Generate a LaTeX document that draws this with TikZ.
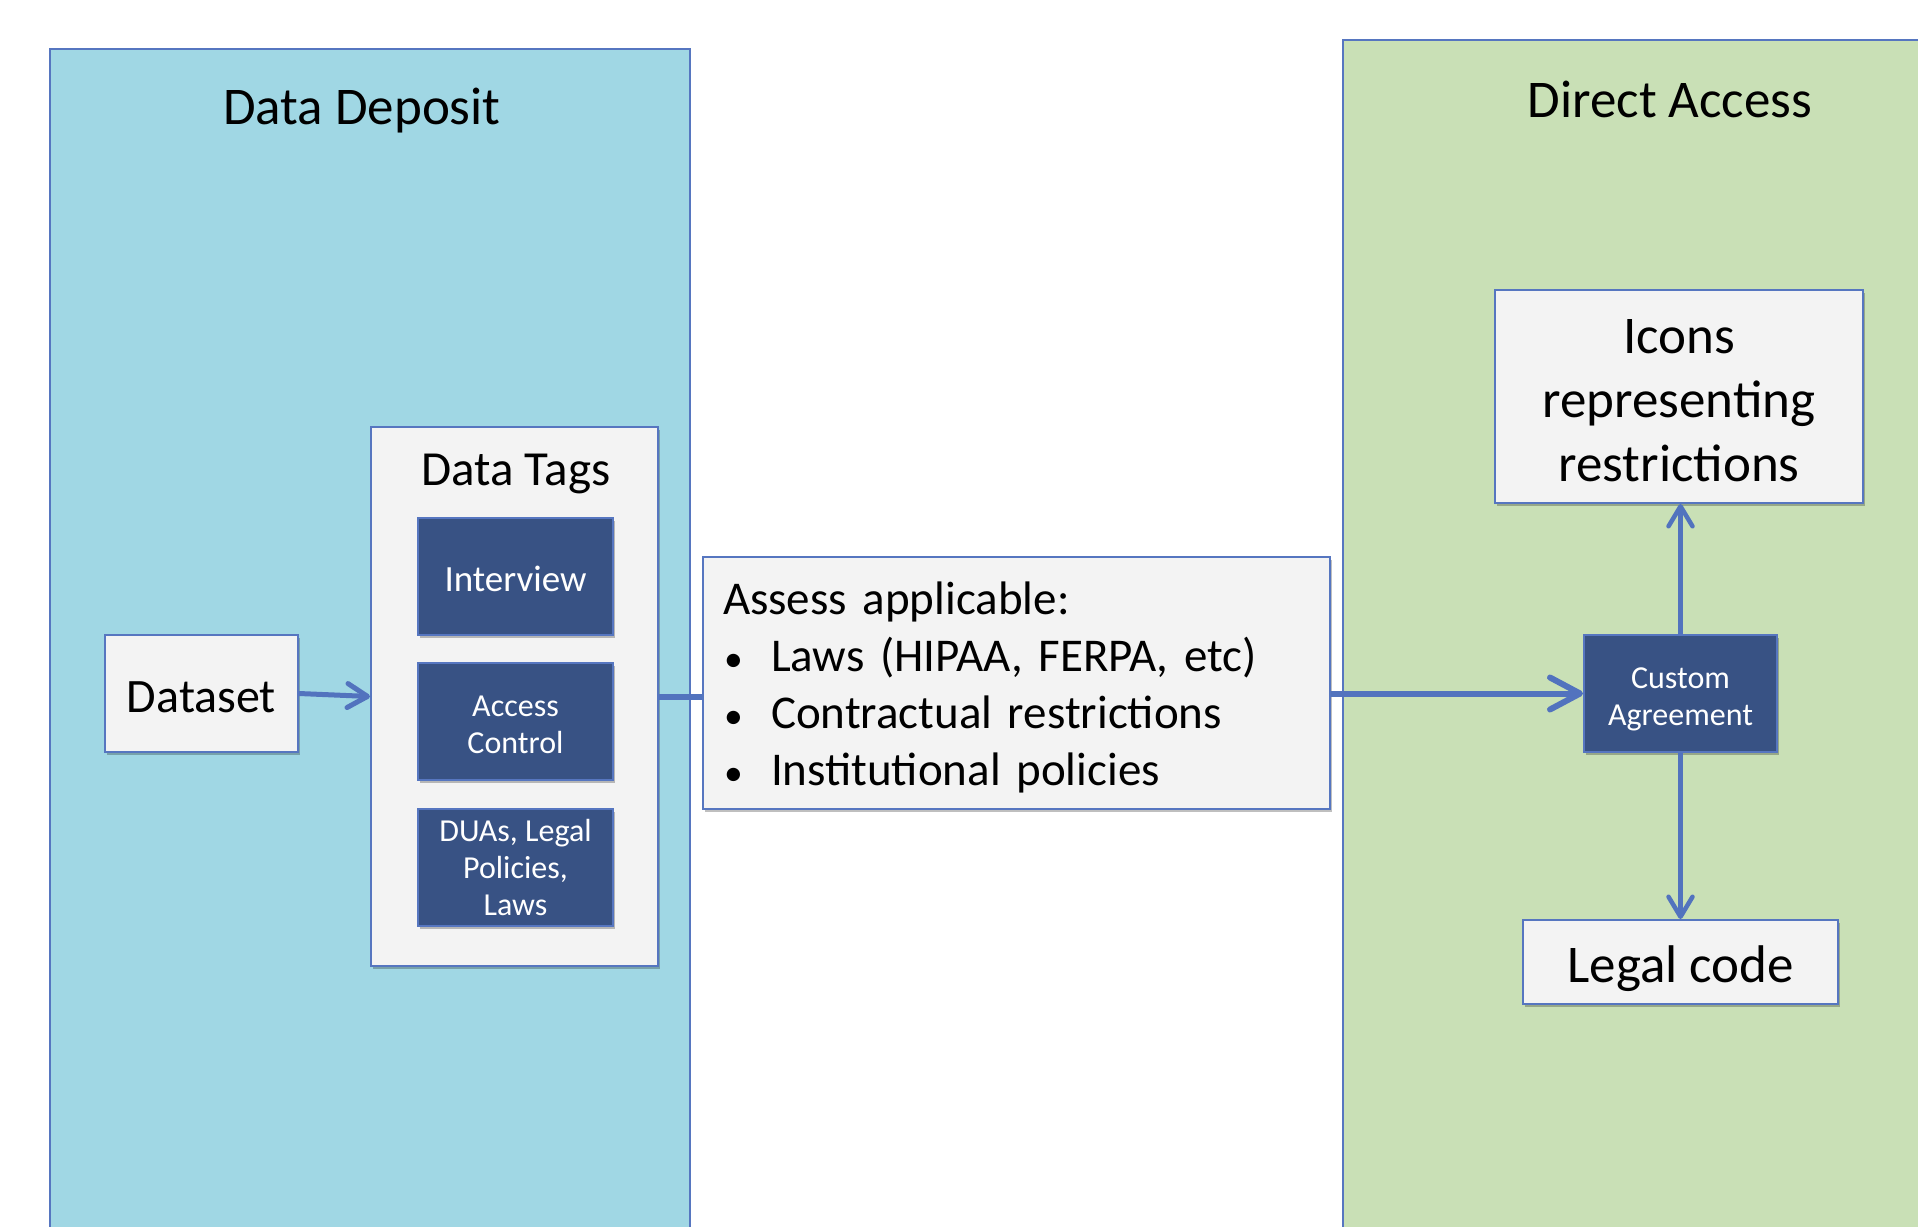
\documentclass[tikz,border=0pt]{standalone}
\usepackage{fontspec}
\setmainfont{Carlito}
\usetikzlibrary{arrows.meta,shadows}

\definecolor{depositfill}{RGB}{160,215,228}
\definecolor{accessfill}{RGB}{201,224,182}
\definecolor{framecol}{RGB}{86,118,192}
\definecolor{paper}{RGB}{243,243,243}
\definecolor{navy}{RGB}{56,82,132}
\definecolor{linkcol}{RGB}{82,115,190}

\newcommand\setfs[2]{\fontsize{#1}{#2}\selectfont}
\newcommand\itemdot{\hspace*{1pt}\makebox[47pt][l]{\scalebox{0.8}{•}}}

\begin{document}
\begin{tikzpicture}[x=1pt,y=-1pt,
  panel/.style={draw=framecol,line width=2pt,inner sep=0pt},
  softshadow/.style={drop shadow={shadow xshift=2pt,shadow yshift=-3pt,opacity=0.25,fill=black}},
  lightbox/.style={draw=framecol,fill=paper,line width=2pt,inner sep=0pt,align=center,softshadow},
  darkbox/.style={draw=framecol,fill=navy,line width=2pt,inner sep=0pt,align=center,text=white,
    minimum width=195pt,minimum height=117pt,softshadow,font=\setfs{32}{37}},
  title/.style={inner sep=0pt,anchor=center},
  link/.style={draw=linkcol,line width=5pt},
  tipsmall/.style={-{Straight Barb[length=20pt,width=24pt,round]}},
  tipbig/.style={-{Straight Barb[length=30pt,width=32pt,round]}},
]
\useasboundingbox (0,0) rectangle (1918,1226);
\clip (0,0) rectangle (1918,1226);
\fill[white] (0,0) rectangle (1918,1226);

% the two panels (running off the lower and right edges)
\node[panel,fill=depositfill,minimum width=640pt,minimum height=1200pt] (deposit) at (370,649) {};
\node[panel,fill=accessfill,minimum width=600pt,minimum height=1210pt] (access) at (1643,645) {};

\node[title,font=\setfs{53}{62}] (deposittitle) at (362,110.5) {Data Deposit};
\node[title,font=\setfs{53}{62}] (accesstitle) at (1670,99) {Direct Access};

% left side: dataset and its tags
\node[lightbox,minimum width=193pt,minimum height=117pt,font=\setfs{48}{56},
      text height=38pt,text depth=0pt] (dataset) at (201.5,693.5) {Dataset};
\node[lightbox,minimum width=287pt,minimum height=539pt] (tags) at (514.5,696.5) {};
\node[title,font=\setfs{49}{58}] (tagstitle) at (516,473.5) {Data Tags};

\node[darkbox,font=\setfs{37}{44},text height=30pt,text depth=0pt] (interview) at (515.5,576) {Interview};
\node[darkbox,text height=64pt,text depth=0pt] (control) at (515.5,721.5) {Access\\Control};
\node[darkbox] (duas) at (515.5,867.5) {DUAs, Legal\\Policies,\\Laws};

% middle: assessment box and its list
\node[lightbox,minimum width=627pt,minimum height=252pt] (assess) at (1016.5,683) {};
\node[title,text width=587pt,align=left,font=\setfs{47}{57}] (assesstext) at (1016.5,687)
  {Assess applicable:\\
   \itemdot Laws (HIPAA, FERPA, etc)\\
   \itemdot Contractual restrictions\\
   \itemdot Institutional policies};

% right side
\node[darkbox,minimum width=193pt,text height=63pt,text depth=0pt] (custom) at (1680.5,693.5) {Custom\\Agreement};
\node[lightbox,minimum width=368pt,minimum height=213pt,font=\setfs{53}{64},
      text height=170pt,text depth=0pt] (icons) at (1679,396.5)
  {Icons\\representing\\restrictions};
\node[lightbox,minimum width=315pt,minimum height=84pt,font=\setfs{53}{60},
      text height=41pt,text depth=0pt] (legal) at (1680.5,962) {Legal code};

% connectors
\draw[link,tipsmall] (dataset.east) -- (tags.west);
\draw[link,line width=6pt] (tags.east) -- (assess.west |- tags.east);
\draw[link,line width=6pt,tipbig] (assess.east |- custom.west) -- (custom.west);
\draw[link,line width=4.5pt,tipsmall] (custom.north) -- (custom.north |- icons.south);
\draw[link,line width=4.5pt,tipsmall] (custom.south) -- (legal.north);
\end{tikzpicture}
\end{document}
